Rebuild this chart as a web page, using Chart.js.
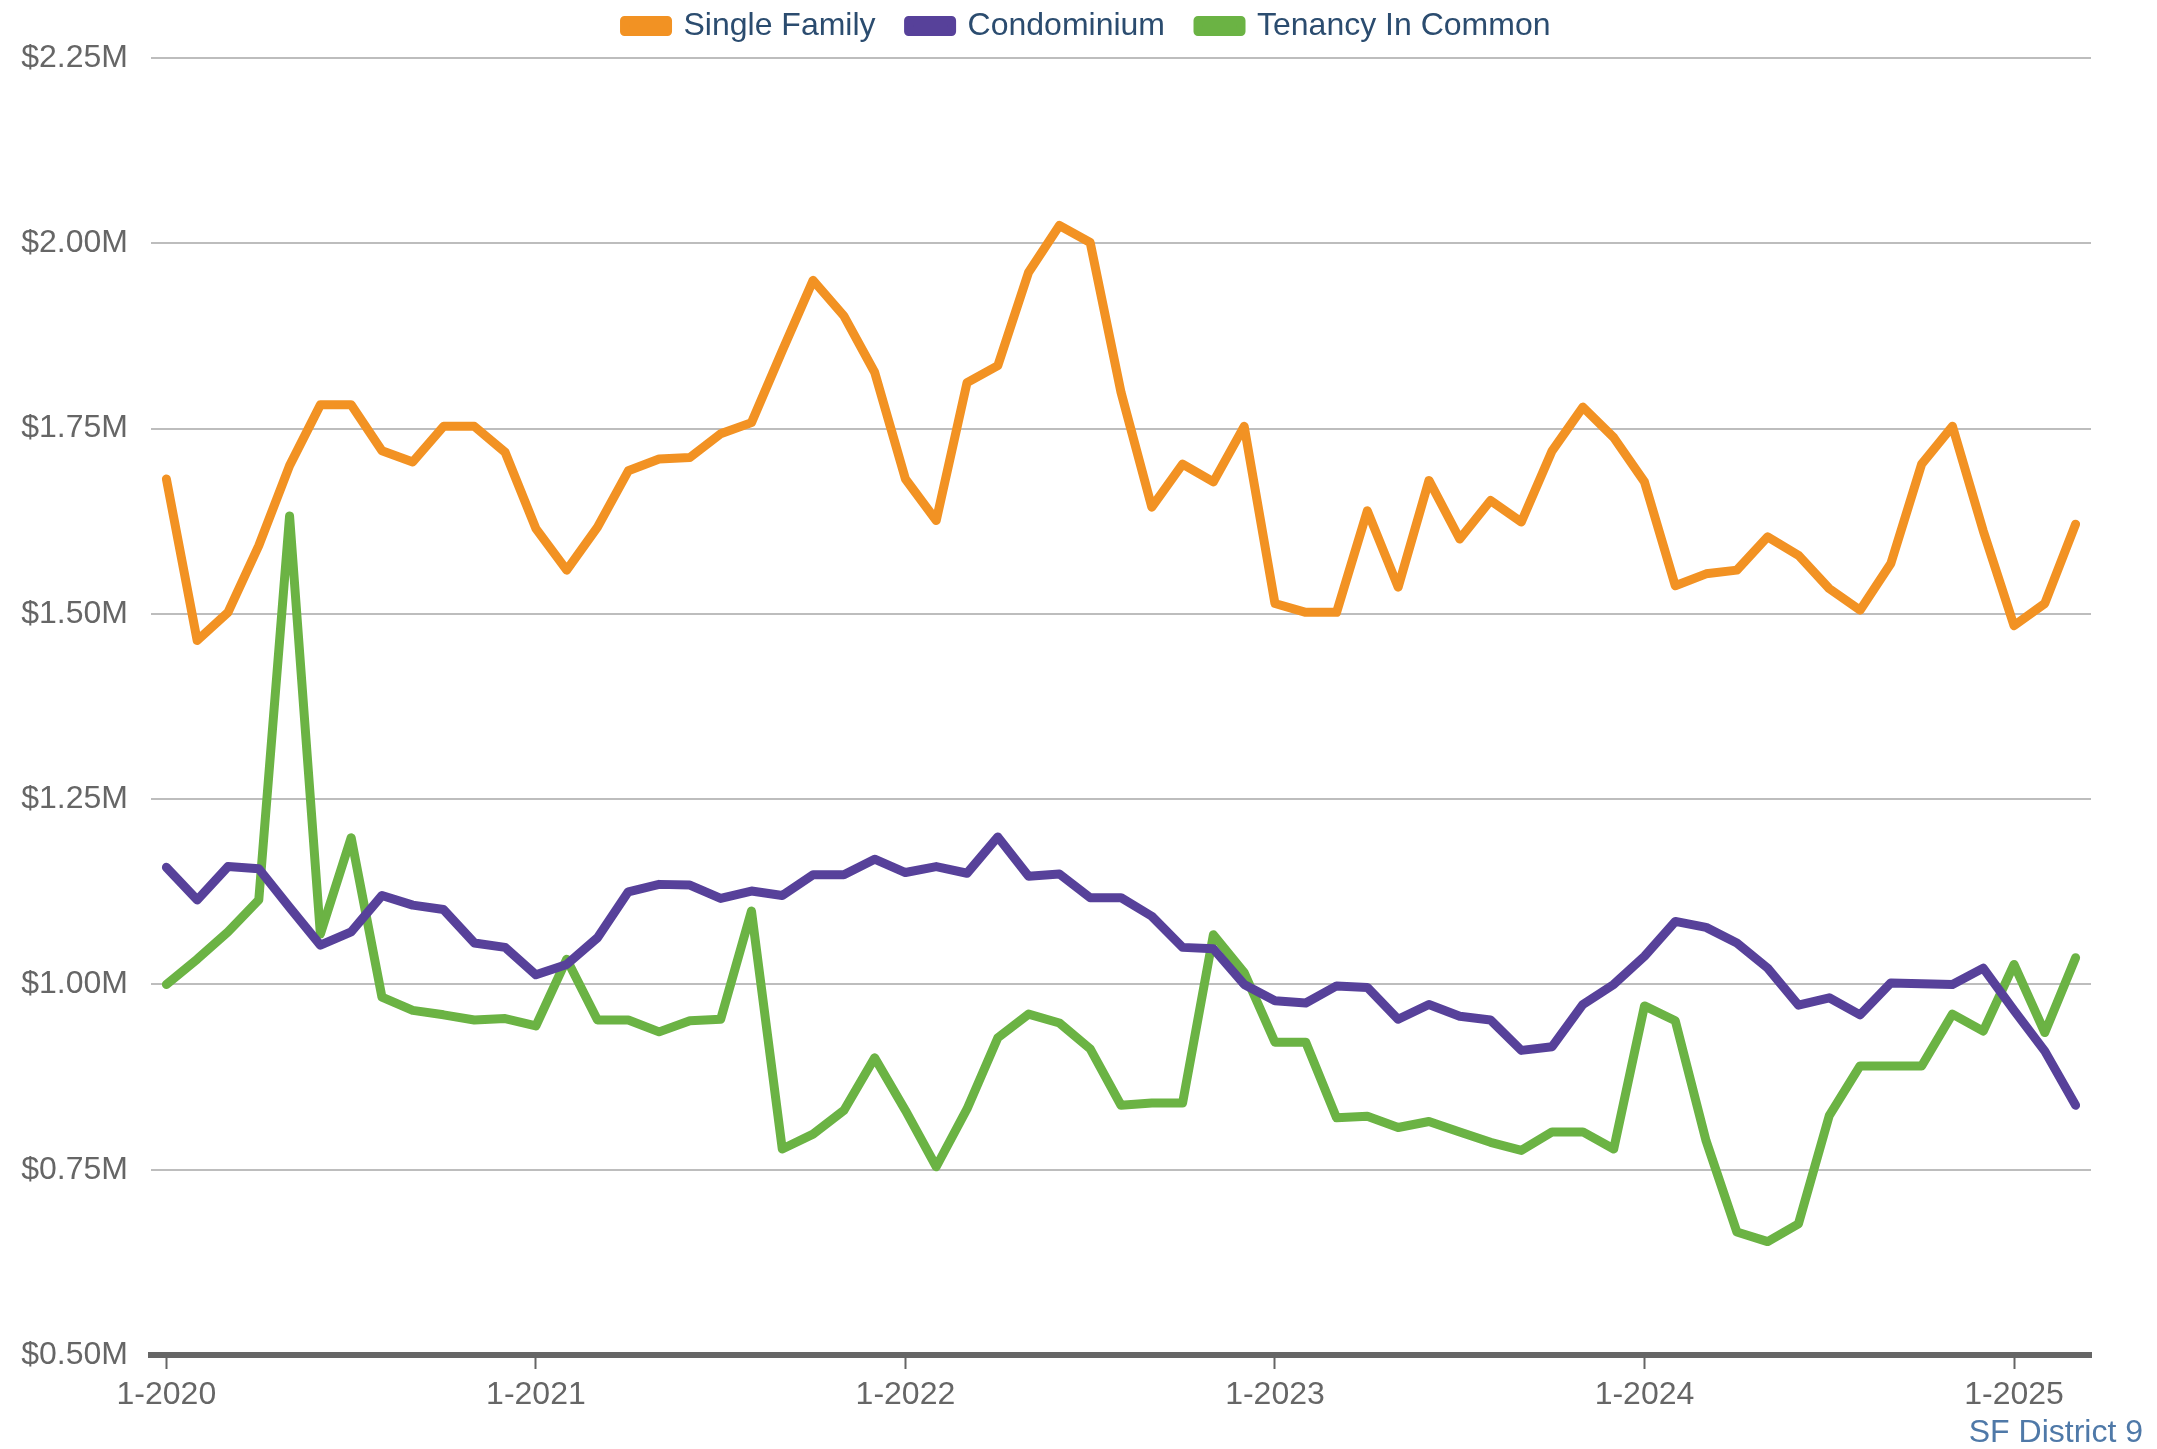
<!DOCTYPE html>
<html lang="en">
<head>
<meta charset="UTF-8">
<title>SF District 9 median sale price</title>
<script src="https://cdn.jsdelivr.net/npm/chart.js"></script>
<style>
  html, body { margin: 0; padding: 0; background: #fff; }
  #wrap { position: relative; width: 2157px; height: 1449px; }
  #note { position: absolute; right: 14px; top: 1413px; font: 32px "Liberation Sans", Arial, sans-serif; color: #4f79a8; }
</style>
</head>
<body>
<div id="wrap">
  <canvas id="myChart"></canvas>
  <div id="note">SF District 9</div>
</div>
<script>
  // months, one per data point
  var months = [
    '1-2020','2-2020','3-2020','4-2020','5-2020','6-2020','7-2020','8-2020','9-2020','10-2020','11-2020','12-2020',
    '1-2021','2-2021','3-2021','4-2021','5-2021','6-2021','7-2021','8-2021','9-2021','10-2021','11-2021','12-2021',
    '1-2022','2-2022','3-2022','4-2022','5-2022','6-2022','7-2022','8-2022','9-2022','10-2022','11-2022','12-2022',
    '1-2023','2-2023','3-2023','4-2023','5-2023','6-2023','7-2023','8-2023','9-2023','10-2023','11-2023','12-2023',
    '1-2024','2-2024','3-2024','4-2024','5-2024','6-2024','7-2024','8-2024','9-2024','10-2024','11-2024','12-2024',
    '1-2025','2-2025','3-2025'
  ];
  var xTickLabels = ['1-2020', '1-2021', '1-2022', '1-2023', '1-2024', '1-2025'];

  // values in $ millions
  var singleFamily = [1.682, 1.464, 1.502, 1.592, 1.700, 1.782, 1.782, 1.720, 1.705, 1.753, 1.753, 1.718,
    1.615, 1.559, 1.617, 1.693, 1.709, 1.711, 1.743, 1.758, 1.855, 1.950, 1.902, 1.826,
    1.682, 1.626, 1.812, 1.835, 1.961, 2.024, 2.001, 1.799, 1.644, 1.702, 1.678, 1.753,
    1.514, 1.502, 1.502, 1.639, 1.536, 1.680, 1.601, 1.653, 1.624, 1.720, 1.779, 1.738,
    1.678, 1.538, 1.554, 1.559, 1.604, 1.579, 1.534, 1.505, 1.568, 1.702, 1.753, 1.612,
    1.484, 1.514, 1.621];
  var condominium = [1.158, 1.114, 1.159, 1.156, 1.104, 1.053, 1.071, 1.120, 1.107, 1.101, 1.056, 1.050,
    1.013, 1.027, 1.063, 1.125, 1.135, 1.134, 1.116, 1.126, 1.120, 1.148, 1.148, 1.169,
    1.151, 1.159, 1.150, 1.199, 1.146, 1.149, 1.117, 1.117, 1.092, 1.050, 1.048, 1.000,
    0.978, 0.975, 0.998, 0.996, 0.953, 0.973, 0.957, 0.952, 0.911, 0.916, 0.973, 1.000,
    1.038, 1.085, 1.077, 1.056, 1.022, 0.972, 0.982, 0.959, 1.002, 1.001, 1.000, 1.022,
    0.965, 0.910, 0.837];
  var tenancyInCommon = [1.000, 1.034, 1.071, 1.114, 1.632, 1.068, 1.198, 0.983, 0.965, 0.959, 0.952, 0.954,
    0.944, 1.034, 0.952, 0.952, 0.936, 0.951, 0.953, 1.099, 0.778, 0.798, 0.830, 0.901,
    0.830, 0.754, 0.832, 0.928, 0.960, 0.948, 0.913, 0.837, 0.840, 0.840, 1.067, 1.016,
    0.922, 0.922, 0.820, 0.822, 0.807, 0.815, 0.801, 0.787, 0.776, 0.801, 0.801, 0.778,
    0.971, 0.951, 0.789, 0.666, 0.653, 0.677, 0.823, 0.890, 0.890, 0.890, 0.960, 0.937,
    1.027, 0.935, 1.036];

  var font = '"Liberation Sans", Arial, sans-serif';

  function series(label, data, color) {
    return {
      label: label,
      data: data,
      borderColor: color,
      backgroundColor: color,
      borderWidth: 9,
      pointRadius: 0,
      tension: 0,
      fill: false,
      borderCapStyle: 'round',
      borderJoinStyle: 'round'
    };
  }

  // a bit more room under the legend, and center it on the page rather than the plot
  const legendTweak = {
    id: 'legendTweak',
    beforeInit(chart) {
      const fit = chart.legend.fit;
      chart.legend.fit = function () { fit.call(this); this.height += 6; };
    },
    afterLayout(chart) {
      chart.legend.left += 42;
      chart.legend.right += 42;
    }
  };

  const ctx = document.getElementById('myChart');

  new Chart(ctx, {
    type: 'line',
    data: {
      labels: months,
      datasets: [
        series('Single Family', singleFamily, '#f29223'),
        series('Condominium', condominium, '#57419a'),
        series('Tenancy In Common', tenancyInCommon, '#6bb344')
      ]
    },
    plugins: [legendTweak],
    options: {
      responsive: true,
      maintainAspectRatio: false,
      animation: false,
      layout: { padding: { top: -23, right: 66, bottom: 0, left: 0 } },
      plugins: {
        tooltip: { enabled: false },
        legend: {
          position: 'top',
          labels: {
            color: '#2b4c6f',
            font: { family: font, size: 32 },
            boxWidth: 43,
            boxHeight: 11,
            padding: 33
          }
        }
      },
      scales: {
        x: {
          offset: true,
          grid: {
            drawOnChartArea: false,
            drawTicks: true,
            tickLength: 14,
            tickWidth: 2,
            tickColor: '#666'
          },
          border: { display: true, color: '#666', width: 6 },
          ticks: {
            autoSkip: false,
            maxRotation: 0,
            padding: 7,
            color: '#666',
            font: { family: font, size: 32 },
            callback: function (val, i) {
              return xTickLabels.indexOf(months[i]) >= 0 ? months[i] : null;
            }
          },
          afterFit: function (scale) { scale.height = 94; }
        },
        y: {
          min: 0.5,
          max: 2.25,
          ticks: {
            stepSize: 0.25,
            padding: 23,
            color: '#666',
            font: { family: font, size: 32 },
            callback: function (v) { return '$' + v.toFixed(2) + 'M'; }
          },
          grid: { color: '#bdbdbd', lineWidth: 2, drawTicks: false },
          border: { display: false },
          afterFit: function (scale) { scale.width = 151; }
        }
      }
    }
  });
</script>
</body>
</html>
